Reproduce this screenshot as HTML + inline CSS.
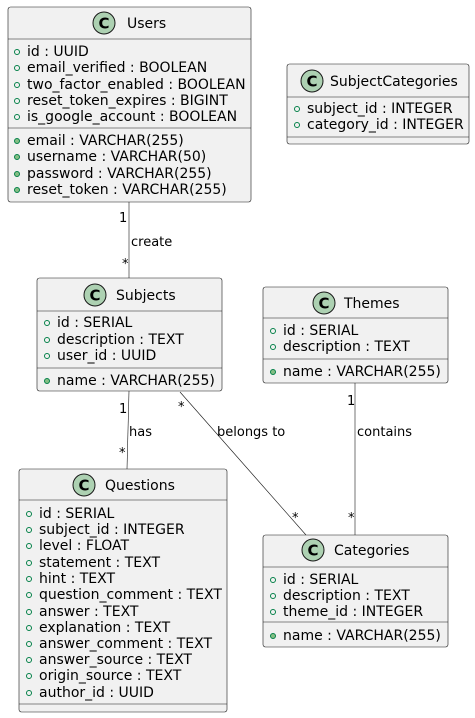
<!DOCTYPE html>
<html><head><meta charset="utf-8"><style>
html,body{margin:0;padding:0;background:#fff;}
svg{display:block;font-family:"DejaVu Sans","Liberation Sans",sans-serif;}
.b{fill:#F1F1F1;stroke:#181818;stroke-width:0.6;}
.s{stroke:#181818;stroke-width:0.6;}
.t{font-size:14px;fill:#000;}
.m{font-size:14px;fill:#000;}
.l{font-size:13px;fill:#000;}
.ic{fill:#ADD1B2;stroke:#181818;stroke-width:1;}
.ct{font-size:15px;font-weight:bold;fill:#000;}
.o{fill:none;stroke:#038048;stroke-width:1;}
.f{fill:#84BE84;stroke:#038048;stroke-width:1;}
</style></head><body>
<svg width="475" height="718" viewBox="0 0 475 718" xmlns="http://www.w3.org/2000/svg">
<line class="s" x1="129" y1="202" x2="129" y2="278"/>
<line class="s" x1="129" y1="391" x2="127" y2="469"/>
<line class="s" x1="180" y1="392" x2="306" y2="535"/>
<line class="s" x1="355" y1="383" x2="355" y2="535"/>
<text class="l" x="119" y="222">1</text>
<text class="l" x="122" y="268">*</text>
<text class="l" x="131" y="246">create</text>
<text class="l" x="119" y="413">1</text>
<text class="l" x="119" y="457">*</text>
<text class="l" x="129" y="436">has</text>
<text class="l" x="178" y="411">*</text>
<text class="l" x="292" y="522">*</text>
<text class="l" x="217" y="436">belongs to</text>
<text class="l" x="347" y="405">1</text>
<text class="l" x="348" y="522">*</text>
<text class="l" x="357" y="436">contains</text>

<rect class="b" x="8" y="7" width="243" height="195" rx="2.5"/>
<line class="s" x1="8" y1="39" x2="251" y2="39"/>
<line class="s" x1="8" y1="128" x2="251" y2="128"/>
<circle class="ic" cx="104" cy="23" r="11"/><text class="ct" x="104" y="28.5" text-anchor="middle">C</text>
<text class="t" x="127" y="28">Users</text>
<g class="m">
<text x="27" y="56">id : UUID</text>
<text x="27" y="72">email_verified : BOOLEAN</text>
<text x="27" y="89">two_factor_enabled : BOOLEAN</text>
<text x="27" y="105">reset_token_expires : BIGINT</text>
<text x="27" y="121">is_google_account : BOOLEAN</text>
<text x="27" y="145">email : VARCHAR(255)</text>
<text x="27" y="161">username : VARCHAR(50)</text>
<text x="27" y="178">password : VARCHAR(255)</text>
<text x="27" y="194">reset_token : VARCHAR(255)</text>
</g>
<circle class="o" cx="17" cy="52" r="2.5"/><circle class="o" cx="17" cy="68" r="2.5"/><circle class="o" cx="17" cy="85" r="2.5"/><circle class="o" cx="17" cy="101" r="2.5"/><circle class="o" cx="17" cy="117" r="2.5"/>
<circle class="f" cx="17" cy="141" r="2.5"/><circle class="f" cx="17" cy="157" r="2.5"/><circle class="f" cx="17" cy="174" r="2.5"/><circle class="f" cx="17" cy="190" r="2.5"/>

<rect class="b" x="287" y="64" width="182" height="80" rx="2.5"/>
<line class="s" x1="287" y1="97" x2="469" y2="97"/>
<line class="s" x1="287" y1="137" x2="469" y2="137"/>
<circle class="ic" cx="312" cy="81" r="11"/><text class="ct" x="312" y="86.5" text-anchor="middle">C</text>
<text class="t" x="330" y="86">SubjectCategories</text>
<g class="m"><text x="307" y="113">subject_id : INTEGER</text><text x="307" y="129">category_id : INTEGER</text></g>
<circle class="o" cx="297" cy="109" r="2.5"/><circle class="o" cx="297" cy="125" r="2.5"/>

<rect class="b" x="37" y="278" width="185" height="113" rx="2.5"/>
<line class="s" x1="37" y1="311" x2="222" y2="311"/>
<line class="s" x1="37" y1="368" x2="222" y2="368"/>
<circle class="ic" cx="95" cy="295" r="11"/><text class="ct" x="95" y="300.5" text-anchor="middle">C</text>
<text class="t" x="116" y="300">Subjects</text>
<g class="m"><text x="57" y="327">id : SERIAL</text><text x="57" y="344">description : TEXT</text><text x="57" y="360">user_id : UUID</text><text x="57" y="385">name : VARCHAR(255)</text></g>
<circle class="o" cx="47" cy="323" r="2.5"/><circle class="o" cx="47" cy="340" r="2.5"/><circle class="o" cx="47" cy="356" r="2.5"/><circle class="f" cx="47" cy="381" r="2.5"/>

<rect class="b" x="263" y="287" width="185" height="96" rx="2.5"/>
<line class="s" x1="263" y1="318" x2="448" y2="318"/>
<line class="s" x1="263" y1="359" x2="448" y2="359"/>
<circle class="ic" cx="324" cy="303" r="11"/><text class="ct" x="324" y="308.5" text-anchor="middle">C</text>
<text class="t" x="344" y="308">Themes</text>
<g class="m"><text x="283" y="335">id : SERIAL</text><text x="283" y="351">description : TEXT</text><text x="283" y="376">name : VARCHAR(255)</text></g>
<circle class="o" cx="273" cy="331" r="2.5"/><circle class="o" cx="273" cy="347" r="2.5"/><circle class="f" cx="273" cy="372" r="2.5"/>

<rect class="b" x="19" y="469" width="208" height="243" rx="2.5"/>
<line class="s" x1="19" y1="500" x2="227" y2="500"/>
<line class="s" x1="19" y1="704" x2="227" y2="704"/>
<circle class="ic" cx="84" cy="485" r="11"/><text class="ct" x="84" y="490.5" text-anchor="middle">C</text>
<text class="t" x="105" y="490">Questions</text>
<g class="m">
<text x="39" y="518">id : SERIAL</text>
<text x="39" y="534">subject_id : INTEGER</text>
<text x="39" y="550">level : FLOAT</text>
<text x="39" y="567">statement : TEXT</text>
<text x="39" y="583">hint : TEXT</text>
<text x="39" y="599">question_comment : TEXT</text>
<text x="39" y="616">answer : TEXT</text>
<text x="39" y="632">explanation : TEXT</text>
<text x="39" y="648">answer_comment : TEXT</text>
<text x="39" y="664">answer_source : TEXT</text>
<text x="39" y="680">origin_source : TEXT</text>
<text x="39" y="697">author_id : UUID</text>
</g>
<g class="o">
<circle cx="29" cy="514" r="2.5"/><circle cx="29" cy="530" r="2.5"/><circle cx="29" cy="546" r="2.5"/><circle cx="29" cy="563" r="2.5"/><circle cx="29" cy="579" r="2.5"/><circle cx="29" cy="595" r="2.5"/><circle cx="29" cy="612" r="2.5"/><circle cx="29" cy="628" r="2.5"/><circle cx="29" cy="644" r="2.5"/><circle cx="29" cy="660" r="2.5"/><circle cx="29" cy="676" r="2.5"/><circle cx="29" cy="693" r="2.5"/>
</g>

<rect class="b" x="263" y="535" width="185" height="112" rx="2.5"/>
<line class="s" x1="263" y1="567" x2="448" y2="567"/>
<line class="s" x1="263" y1="622" x2="448" y2="622"/>
<circle class="ic" cx="313" cy="550" r="11"/><text class="ct" x="313" y="555.5" text-anchor="middle">C</text>
<text class="t" x="334" y="555">Categories</text>
<g class="m"><text x="283" y="584">id : SERIAL</text><text x="283" y="600">description : TEXT</text><text x="283" y="616">theme_id : INTEGER</text><text x="283" y="640">name : VARCHAR(255)</text></g>
<circle class="o" cx="273" cy="580" r="2.5"/><circle class="o" cx="273" cy="596" r="2.5"/><circle class="o" cx="273" cy="612" r="2.5"/><circle class="f" cx="273" cy="636" r="2.5"/>
</svg>
</body></html>
